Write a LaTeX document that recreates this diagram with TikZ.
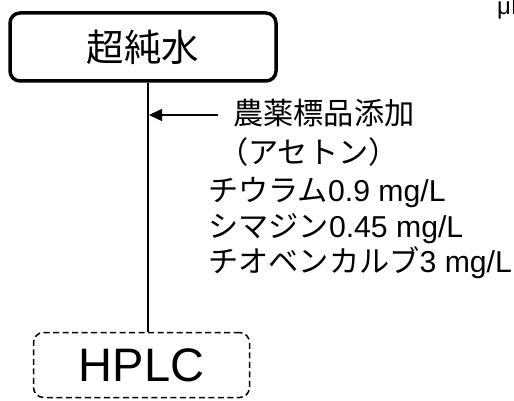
\documentclass[tikz,border=0pt]{standalone}
\usepackage{fontspec}
\setmainfont{Liberation Sans}
\newfontfamily\jp{Noto Sans CJK JP}
\usetikzlibrary{arrows.meta}
\newcommand{\rowsize}{\fontsize{30.2}{36}\selectfont}
\tikzset{
  tank/.style={draw, line width=3.5pt, rounded corners=10pt, inner sep=0pt,
    minimum width=266pt, minimum height=68pt, font=\jp\fontsize{37.5}{40}\selectfont},
  device/.style={draw, line width=1.5pt, dash pattern=on 6pt off 3.5pt,
    rounded corners=10pt, inner sep=0pt, minimum width=216pt, minimum height=65pt,
    font=\fontsize{47}{50}\selectfont},
  label/.style={anchor=base west, inner sep=0pt, font=\rowsize}
}

\begin{document}
\begin{tikzpicture}[x=1pt, y=-1pt]

  \useasboundingbox (0, 0) rectangle (514, 401);

  \node[tank] (water) at (143, 47) {超純水};
  \node[device] (hplc) at (141.5, 365) {HPLC};

  \coordinate (trunk) at (148, 0);
  \draw[line width=2.2pt] (water.south -| trunk) -- (hplc.north -| trunk);

  \coordinate (feed) at (218, 115);
  \draw[line width=1.5pt, -{Triangle[length=13pt, width=12pt]}, shorten >=1pt]
    (feed) -- (feed -| trunk);

  \node[label] (spike) at (233, 125) {\jp 農薬標品添加};
  \node[label] (solvent) at (218, 164) {\jp （アセトン）};
  \node[label] (thiuram) at (208, 201) {{\jp チウラム}0.9 mg/L};
  \node[label] (simazine) at (208, 237) {{\jp シマジン}0.45 mg/L};
  \node[label] (thiobencarb) at (208, 272) {{\jp チオベンカルブ}3 mg/L};

  % cut off at the right edge
  \node[anchor=base west, inner sep=0pt, font=\fontsize{24}{26}\selectfont]
    (unit) at (497, 15) {μL};

\end{tikzpicture}
\end{document}
